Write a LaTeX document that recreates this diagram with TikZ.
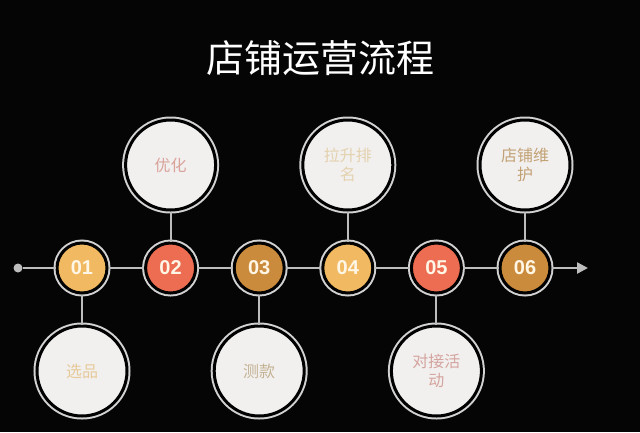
\documentclass[tikz,border=0pt]{standalone}
\usepackage{fontspec}
\newfontfamily\cjk{Noto Sans CJK SC}
\setsansfont{Liberation Sans}
\usetikzlibrary{arrows.meta}
\definecolor{bg}{HTML}{050505}
\definecolor{linegray}{HTML}{BDBDBD}
\definecolor{ring}{HTML}{D2D2D2}
\definecolor{bubblefill}{HTML}{F2EFEF}
\definecolor{numtext}{HTML}{FFF6E6}
\definecolor{cone}{HTML}{F1BA62}
\definecolor{ctwo}{HTML}{EC6D51}
\definecolor{cthree}{HTML}{CB8B3C}
\definecolor{tone}{HTML}{E6CB9A}
\definecolor{ttwo}{HTML}{D9A39A}
\definecolor{tthree}{HTML}{C4B393}
\definecolor{tfour}{HTML}{E3D2AE}
\definecolor{tfive}{HTML}{D4A49E}
\definecolor{tsix}{HTML}{C2A275}

\begin{document}
\begin{tikzpicture}[x=1pt,y=-1pt,
  numdot/.style={circle,minimum size=50pt,inner sep=0pt,draw=black,line width=3pt,
    preaction={draw=ring,line width=7pt},text=numtext,
    font=\sffamily\bfseries\fontsize{20}{20}\selectfont},
  bubble/.style={circle,minimum size=90pt,inner sep=0pt,fill=bubblefill,draw=black,line width=3pt,
    preaction={draw=ring,line width=7pt},align=center,
    font=\cjk\fontsize{16}{19}\selectfont},
  track/.style={draw=linegray,line width=2.5pt},
  stem/.style={draw=linegray,line width=2pt}]
\fill[bg] (0,0) rectangle (640,432);

\node[text=white,font=\cjk\fontsize{38}{38}\selectfont] (title) at (320,58) {店铺运营流程};

\node[circle,fill=linegray,minimum size=9pt,inner sep=0pt] (start) at (18,268) {};
\coordinate (end) at (588,268);

\node[numdot,fill=cone] (n1) at (82,268) {01};
\node[numdot,fill=ctwo] (n2) at (170.6,268) {02};
\node[numdot,fill=cthree] (n3) at (259.2,268) {03};
\node[numdot,fill=cone] (n4) at (347.8,268) {04};
\node[numdot,fill=ctwo] (n5) at (436.4,268) {05};
\node[numdot,fill=cthree] (n6) at (525,268) {06};

\node[bubble,text=tone] (b1) at (82,371) {选品};
\node[bubble,text=ttwo] (b2) at (170.6,165) {优化};
\node[bubble,text=tthree] (b3) at (259.2,371) {测款};
\node[bubble,text=tfour] (b4) at (347.8,165) {拉升排\\名};
\node[bubble,text=tfive] (b5) at (436.4,371) {对接活\\动};
\node[bubble,text=tsix] (b6) at (525,165) {店铺维\\护};

\draw[track] (start) -- (n1);
\draw[track] (n1) -- (n2);
\draw[track] (n2) -- (n3);
\draw[track] (n3) -- (n4);
\draw[track] (n4) -- (n5);
\draw[track] (n5) -- (n6);
\draw[track,-{Triangle[length=11pt,width=11pt]}] (n6) -- (end);

\draw[stem] (n1) -- (b1);
\draw[stem] (n2) -- (b2);
\draw[stem] (n3) -- (b3);
\draw[stem] (n4) -- (b4);
\draw[stem] (n5) -- (b5);
\draw[stem] (n6) -- (b6);
\end{tikzpicture}
\end{document}
